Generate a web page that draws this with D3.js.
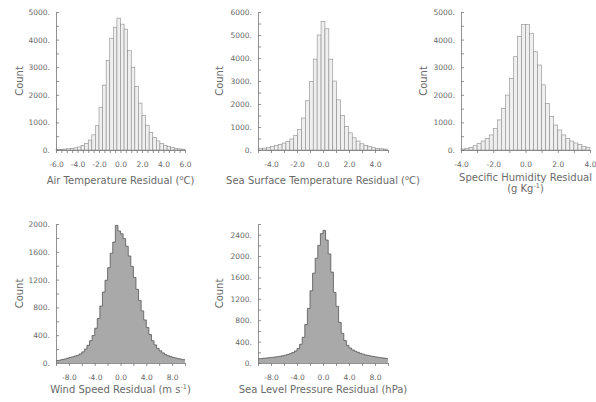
<!DOCTYPE html>
<html lang="en">
<head>
<meta charset="UTF-8">
<title>Residual histograms</title>
<script src="https://cdn.jsdelivr.net/npm/d3@7"></script>
<style>
  body { margin: 0; background: #fff; }
  svg text { font-family: "DejaVu Sans", sans-serif; fill: #6a6a6a; }
</style>
</head>
<body>
<svg width="596" height="402"></svg>
<script>
// bin counts (left edge of first bin + bin width)
var airStart = -6, airWidth = 1 / 3;
var airCounts = [20, 25, 35, 45, 58, 80, 110, 160, 240, 360, 550, 880, 1550, 2350, 3250, 4050, 4450, 4780,
                 4560, 4380, 3600, 3000, 2300, 1700, 1250, 900, 640, 460, 330, 240, 170, 120, 85, 60, 40, 30];

var sstStart = -4.95, sstWidth = 0.3;
var sstCounts = [60, 80, 110, 150, 190, 240, 300, 380, 480, 640, 890, 1390, 2140, 2970, 3950, 5000,
                 5580, 5270, 3950, 3000, 2180, 1500, 1030, 745, 530, 390, 270, 200, 145, 100, 72, 55, 40];

var humStart = -4, humWidth = 0.25;
var humCounts = [35, 60, 95, 155, 240, 325, 420, 545, 785, 1090, 1510, 1990, 2600, 3380, 4110, 4550,
                 4550, 4230, 3560, 3080, 2360, 1690, 1210, 905, 725, 545, 420, 325, 255, 195, 135, 85];

var windStart = -10, windWidth = 0.4;
var windCounts = [35, 40, 50, 58, 68, 80, 88, 100, 112, 130, 160, 200, 255, 320, 395, 500, 640, 820, 1020, 1190,
                  1370, 1580, 1740, 1980, 1900, 1860, 1790, 1680, 1540, 1390, 1230, 1060, 900, 750, 620, 510,
                  410, 320, 260, 210, 175, 145, 120, 105, 92, 80, 72, 62, 55, 48];

var slpStart = -10, slpWidth = 0.4;
var slpCounts = [80, 85, 90, 95, 100, 105, 110, 118, 125, 135, 145, 160, 175, 195, 225, 270, 350, 480, 720, 1020,
                 1350, 1680, 1960, 2200, 2420, 2480, 2300, 2040, 1700, 1320, 1060, 760, 555, 420, 330, 280,
                 245, 220, 200, 180, 165, 150, 140, 130, 122, 112, 105, 98, 92, 85];

var airTitle = [["Air Temperature Residual ("], ["o", 1], ["C)"]];
var sstTitle = [["Sea Surface Temperature Residual ("], ["o", 1], ["C)"]];
var humTitle = [["Specific Humidity Residual"]];
var humTitle2 = [["(g Kg"], ["-1", 1], [")"]];
var windTitle = [["Wind Speed Residual (m s"], ["-1", 1], [")"]];
var slpTitle = [["Sea Level Pressure Residual (hPa)"]];

var svg = d3.select("svg");

var panels = [
  {counts: airCounts, start: airStart, w: airWidth, xr: [56, 185], yr: [150, 12], xd: [-6, 6], yd: [0, 5000],
   xt: 0.5, xl: 2, yt: 500, yl: 1000, solid: false, title: airTitle, ty: 184, cx: 19},
  {counts: sstCounts, start: sstStart, w: sstWidth, xr: [258, 388], yr: [150, 12], xd: [-5, 5], yd: [0, 6000],
   xt: 1, xl: 2, yt: 500, yl: 1000, solid: false, title: sstTitle, ty: 184, cx: 219},
  {counts: humCounts, start: humStart, w: humWidth, xr: [461, 590], yr: [150, 12], xd: [-4, 4], yd: [0, 5000],
   xt: 1, xl: 2, yt: 500, yl: 1000, solid: false, title: humTitle, title2: humTitle2, ty: 181, cx: 423},
  {counts: windCounts, start: windStart, w: windWidth, xr: [56, 185], yr: [363, 224], xd: [-10, 10], yd: [0, 2000],
   xt: 2, xl: 4, yt: 200, yl: 400, solid: true, title: windTitle, ty: 393, cx: 19},
  {counts: slpCounts, start: slpStart, w: slpWidth, xr: [258, 388], yr: [363, 224], xd: [-10, 10], yd: [0, 2600],
   xt: 2, xl: 4, yt: 200, yl: 400, ylMax: 2400, solid: true, title: slpTitle, ty: 393, cx: 219}
];

function fmtX(v) {
  return (v < 0 ? "-" : "") + Math.abs(v).toFixed(1);
}

function addTitle(g, segs, x, y) {
  var t = g.append("text").attr("x", x).attr("y", y)
      .attr("text-anchor", "middle").style("font-size", "10px");
  segs.forEach(function(s) {
    var sp = t.append("tspan").text(s[0]);
    if (s[1]) sp.attr("dy", -4).style("font-size", "6.5px");
    else if (sp.node().previousSibling) sp.attr("dy", 4);
  });
}

panels.forEach(function(p) {
  var x = d3.scaleLinear().domain(p.xd).range(p.xr),
      y = d3.scaleLinear().domain(p.yd).range(p.yr);
  var g = svg.append("g");
  var bw = x(p.w) - x(0);

  var bins = p.counts.map(function(c, i) { return {x0: p.start + i * p.w, c: c}; });

  if (p.solid) {
    // filled step outline, one shape so no seams between bins
    var pts = [[bins[0].x0, 0]];
    bins.forEach(function(d) { pts.push([d.x0, d.c], [d.x0 + p.w, d.c]); });
    pts.push([bins[bins.length - 1].x0 + p.w, 0]);
    var line = d3.line().x(function(d) { return x(d[0]); }).y(function(d) { return y(d[1]); });
    g.append("path")
      .attr("d", line(pts) + "Z")
      .attr("fill", "#a9a9a9");
    g.append("path")
      .attr("d", line(pts.slice(1, -1)))
      .attr("fill", "none")
      .attr("stroke", "#555")
      .attr("stroke-width", 0.8);
  } else {
    g.selectAll("rect")
      .data(bins)
      .enter().append("rect")
        .attr("x", function(d) { return x(d.x0); })
        .attr("y", function(d) { return y(d.c); })
        .attr("width", bw)
        .attr("height", function(d) { return y(0) - y(d.c); })
        .attr("fill", "#efefef")
        .attr("stroke", "#8c8c8c")
        .attr("stroke-width", 0.6);
  }

  var ylMax = p.ylMax || p.yd[1];
  var yAxis = d3.axisLeft(y)
      .tickValues(d3.range(p.yd[0], p.yd[1] + 1, p.yt))
      .tickSizeInner(-3).tickSizeOuter(0).tickPadding(6)
      .tickFormat(function(v) { return (v % p.yl === 0 && v <= ylMax) ? v + "." : ""; });
  var xAxis = d3.axisBottom(x)
      .tickValues(d3.range(p.xd[0], p.xd[1] + 0.001, p.xt))
      .tickSizeInner(3).tickSizeOuter(0).tickPadding(9)
      .tickFormat(function(v) { return Math.abs(v % p.xl) < 1e-9 ? fmtX(v) : ""; });

  [g.append("g").attr("transform", "translate(" + p.xr[0] + ",0)").call(yAxis),
   g.append("g").attr("transform", "translate(0," + p.yr[0] + ")").call(xAxis)].forEach(function(a) {
    a.attr("font-family", null).attr("font-size", null);
    a.selectAll("path, line").attr("stroke", "#777").attr("stroke-width", 0.8);
    a.selectAll("text").style("font-size", "7.5px").attr("fill", null);
  });

  g.append("text")
    .attr("transform", "translate(" + p.cx + "," + (p.yr[0] + p.yr[1]) / 2 + ") rotate(-90)")
    .attr("text-anchor", "middle")
    .attr("dy", "0.35em")
    .style("font-size", "10px")
    .text("Count");

  var mid = (p.xr[0] + p.xr[1]) / 2;
  addTitle(g, p.title, mid, p.ty);
  if (p.title2) addTitle(g, p.title2, mid, p.ty + 11);
});
</script>
</body>
</html>
